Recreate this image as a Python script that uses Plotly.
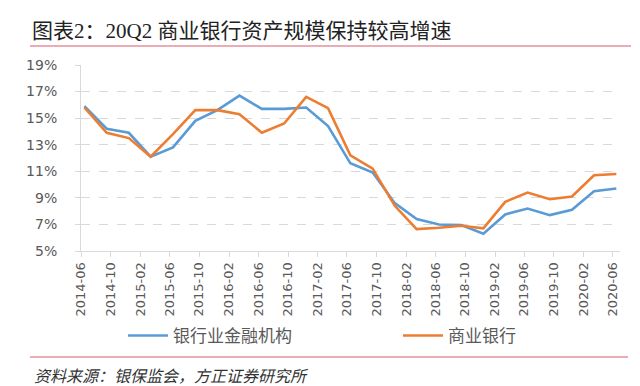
import plotly.graph_objects as go
import pandas as pd

quarters = ["2014-06", "2014-09", "2014-12", "2015-03", "2015-06", "2015-09", "2015-12",
            "2016-03", "2016-06", "2016-09", "2016-12", "2017-03", "2017-06", "2017-09",
            "2017-12", "2018-03", "2018-06", "2018-09", "2018-12", "2019-03", "2019-06",
            "2019-09", "2019-12", "2020-03", "2020-06"]
banking_institutions = [15.9, 14.2, 13.9, 12.1, 12.8, 14.8, 15.6, 16.7, 15.7, 15.7, 15.8, 14.4,
                        11.6, 10.9, 8.6, 7.4, 7.0, 6.95, 6.3, 7.75, 8.2, 7.7, 8.1, 9.5, 9.7]
commercial_banks = [15.8, 13.9, 13.5, 12.1, 13.8, 15.6, 15.6, 15.3, 13.9, 14.6, 16.6, 15.75,
                    12.2, 11.2, 8.4, 6.65, 6.75, 6.9, 6.7, 8.7, 9.4, 8.9, 9.1, 10.7, 10.8]
tick_months = ["2014-06", "2014-10", "2015-02", "2015-06", "2015-10", "2016-02", "2016-06",
               "2016-10", "2017-02", "2017-06", "2017-10", "2018-02", "2018-06", "2018-10",
               "2019-02", "2019-06", "2019-10", "2020-02", "2020-06"]
y_ticks = [5, 7, 9, 11, 13, 15, 17, 19]

title_text = "图表2：20Q2 商业银行资产规模保持较高增速"
source_text = "资料来源：银保监会，方正证券研究所"

x_dates = pd.to_datetime([q + "-15" for q in quarters])
tick_dates = pd.to_datetime([m + "-01" for m in tick_months])

fig = go.Figure()
fig.add_trace(go.Scatter(x=x_dates, y=banking_institutions, mode="lines", name="银行业金融机构",
                         line=dict(color="#5B9BD5", width=2.6), legend="legend"))
fig.add_trace(go.Scatter(x=x_dates, y=commercial_banks, mode="lines", name="商业银行",
                         line=dict(color="#ED7D31", width=2.6), legend="legend2"))

W, H = 640, 386
L, R, T, B = 73, 28, 57, 143
pw, ph = W - L - R, H - T - B

def px_x(px):
    return (px - L) / pw

def px_y(py):
    return (H - B - py) / ph

legend_font = dict(family="Noto Sans CJK SC", size=17, color="#595959")

fig.update_layout(
    width=W, height=H,
    margin=dict(l=L, r=R, t=T, b=B),
    paper_bgcolor="white", plot_bgcolor="white",
    title=dict(text=title_text, xref="container", yref="container",
               x=24 / W, y=1 - 23 / H, xanchor="left", yanchor="middle",
               font=dict(family="Liberation Serif, Noto Sans CJK SC", size=21, color="#222222")),
    showlegend=True,
    legend=dict(orientation="h", x=px_x(115), y=px_y(328), xanchor="left", yanchor="middle",
                font=legend_font, itemwidth=40, bgcolor="rgba(0,0,0,0)"),
    legend2=dict(orientation="h", x=px_x(390), y=px_y(328), xanchor="left", yanchor="middle",
                 font=legend_font, itemwidth=40, bgcolor="rgba(0,0,0,0)"),
    xaxis=dict(type="date", range=[pd.Timestamp("2014-06-01"), pd.Timestamp("2020-06-30")],
               tickvals=tick_dates, ticktext=tick_months, tickangle=-90,
               tickfont=dict(family="DejaVu Sans", size=13, color="#595959"),
               showline=True, linecolor="#D9D9D9", linewidth=1,
               ticks="outside", ticklen=5, tickcolor="#D9D9D9",
               showgrid=False, zeroline=False, fixedrange=True),
    yaxis=dict(range=[5, 19], tickvals=y_ticks,
               ticktext=[f"{v}%" for v in y_ticks],
               tickfont=dict(family="DejaVu Sans", size=14, color="#595959"),
               showline=True, linecolor="#D9D9D9", linewidth=1,
               ticks="outside", ticklen=5, tickcolor="#D9D9D9",
               ticklabelposition="outside", ticklabelstandoff=15,
               showgrid=True, gridcolor="#D9D9D9", griddash="dash", gridwidth=1,
               zeroline=False, fixedrange=True, automargin=False),
    shapes=[
        dict(type="line", xref="paper", yref="paper", x0=px_x(22), x1=px_x(623),
             y0=px_y(38), y1=px_y(38), line=dict(color="#E4919E", width=1.6)),
        dict(type="line", xref="paper", yref="paper", x0=px_x(22), x1=px_x(620),
             y0=px_y(349), y1=px_y(349), line=dict(color="#E4919E", width=1.6)),
    ],
    annotations=[
        dict(text=source_text, xref="paper", yref="paper", x=px_x(24), y=px_y(367),
             xanchor="left", yanchor="middle", showarrow=False,
             font=dict(family="Noto Sans CJK SC", size=16, color="#333333", style="italic")),
    ],
)

fig.write_html("out.html")
